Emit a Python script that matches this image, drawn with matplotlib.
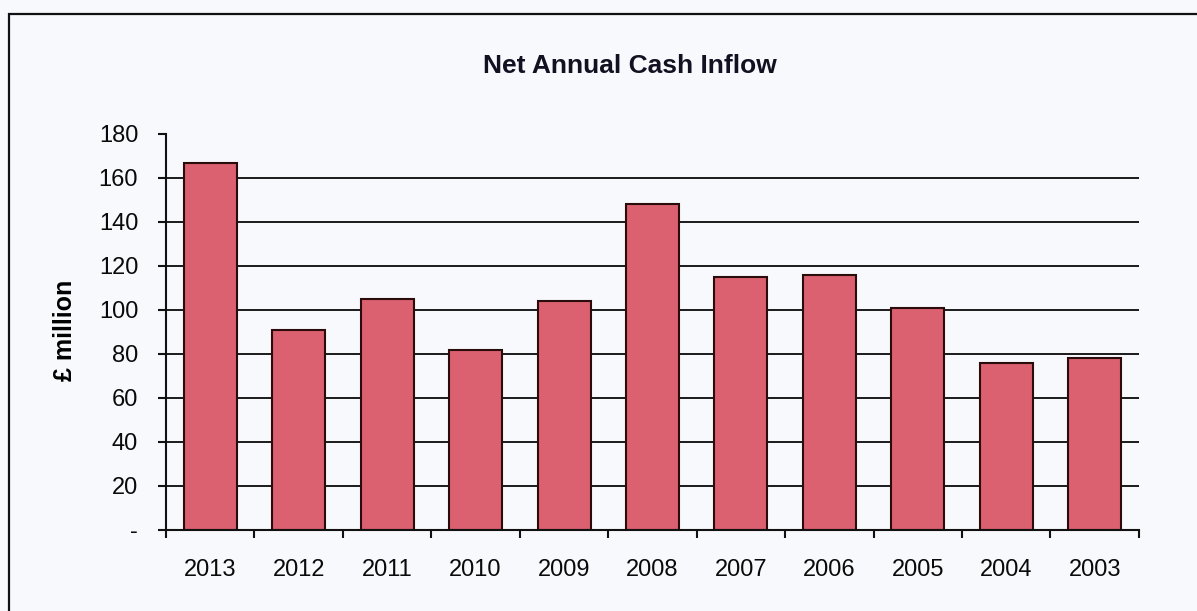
import matplotlib
matplotlib.use("Agg")
import matplotlib.pyplot as plt
from matplotlib.patches import Rectangle
from matplotlib.ticker import FixedLocator, FixedFormatter

years = ["2013", "2012", "2011", "2010", "2009", "2008", "2007", "2006", "2005", "2004", "2003"]
inflow = [167, 91, 105, 82, 104, 148, 115, 116, 101, 76, 78]
y_ticks = [0, 20, 40, 60, 80, 100, 120, 140, 160, 180]
y_tick_labels = ["-", "20", "40", "60", "80", "100", "120", "140", "160", "180"]

plt.rcParams["font.family"] = ["Liberation Sans", "DejaVu Sans"]

bg = "#f8f9fc"
fig = plt.figure(figsize=(11.97, 6.11), dpi=100, facecolor=bg)
ax = fig.add_axes([0.1387, 0.1326, 0.8128, 0.6481], facecolor=bg)

# outer chart frame (left and top edges visible, rest runs off the page)
frame = Rectangle((0.0075, -0.5), 1.5, 0.477 + 1.0, transform=fig.transFigure,
                  fill=False, edgecolor="#111111", linewidth=1.6, clip_on=False)
fig.patches.append(frame)

n = len(years)
x = list(range(n))

# horizontal gridlines behind the bars
for v in y_ticks[1:-1]:
    ax.axhline(v, color="#1a1a1a", linewidth=1.4, zorder=1)

ax.bar(x, inflow, width=0.6, color="#db6070", edgecolor="#2a0c0c",
       linewidth=1.5, zorder=2)

ax.set_xlim(-0.5, n - 0.5)
ax.set_ylim(0, 180)

ax.yaxis.set_major_locator(FixedLocator(y_ticks))
ax.yaxis.set_major_formatter(FixedFormatter(y_tick_labels))
ax.set_xticks(x)
ax.set_xticklabels(years)
ax.xaxis.set_minor_locator(FixedLocator([i - 0.5 for i in range(n + 1)]))
ax.tick_params(axis="x", which="major", length=0, pad=21, labelsize=17, labelcolor="#0a0a0a")
ax.tick_params(axis="x", which="minor", length=6, width=1.5, color="#111111", direction="out")
ax.tick_params(axis="y", length=6, width=1.5, color="#111111", pad=14, labelsize=17,
               labelcolor="#0a0a0a", direction="out")

for s in ("top", "right"):
    ax.spines[s].set_visible(False)
for s in ("left", "bottom"):
    ax.spines[s].set_linewidth(1.5)
    ax.spines[s].set_color("#111111")

ax.set_ylabel("£ million", fontsize=18, fontweight="bold")
ax.yaxis.set_label_coords(-0.092, 0.505)
fig.text(0.526, 0.892, "Net Annual Cash Inflow", ha="center", va="center",
         fontsize=19, fontweight="bold", color="#111122")

fig.savefig("out.png", dpi=100, facecolor=bg)
